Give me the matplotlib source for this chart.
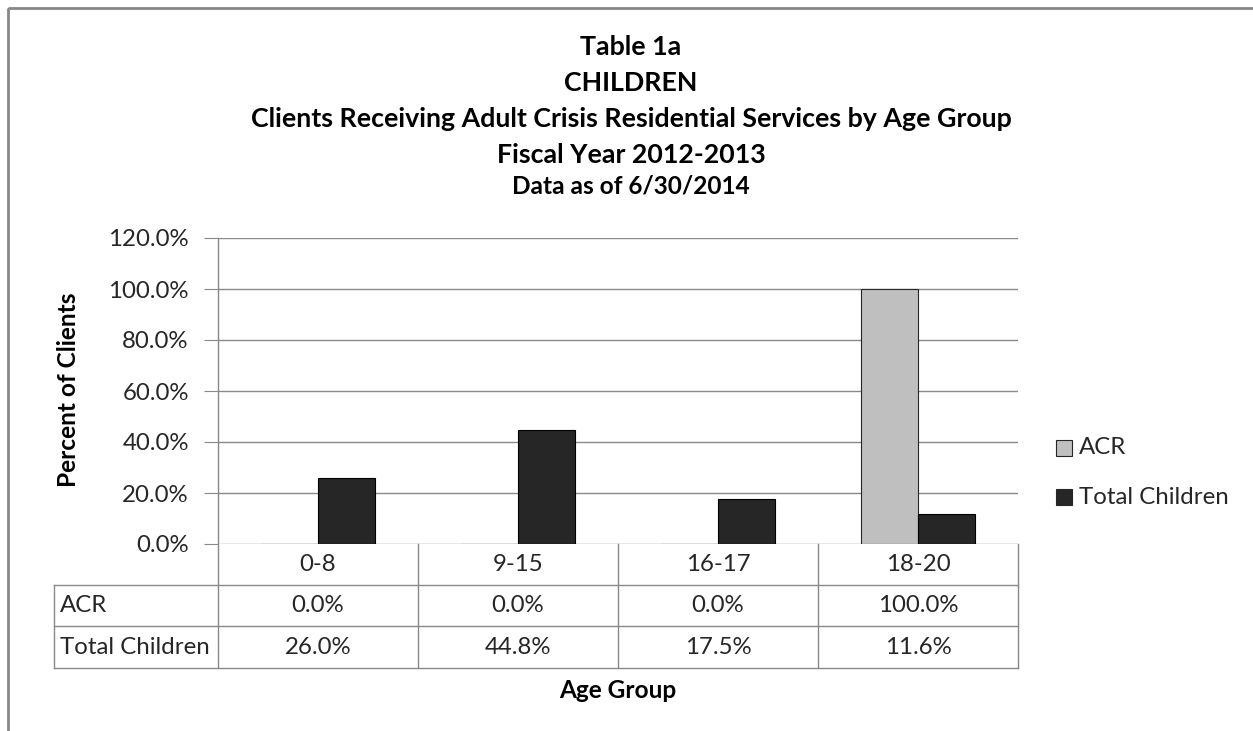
import matplotlib
matplotlib.use('Agg')
import matplotlib.pyplot as plt
from matplotlib.patches import Rectangle
import numpy as np

# Chart data
age_groups = ['0-8', '9-15', '16-17', '18-20']
series_names = ['ACR', 'Total Children']
acr_values = [0.0, 0.0, 0.0, 100.0]
total_values = [26.0, 44.8, 17.5, 11.6]
y_ticks = [0, 20, 40, 60, 80, 100, 120]
title_lines = ['Table 1a', 'CHILDREN',
               'Clients Receiving Adult Crisis Residential Services by Age Group',
               'Fiscal Year 2012-2013']
subtitle = 'Data as of 6/30/2014'
x_title = 'Age Group'
y_title = 'Percent of Clients'

plt.rcParams['font.family'] = ['Lato', 'DejaVu Sans']

W, H = 1253, 731
fig = plt.figure(figsize=(W / 100, H / 100), dpi=100, facecolor='white')
renderer = fig.canvas.get_renderer()


def fx(px):
    return px / W


def fy(py):
    return 1 - py / H


def fit_size(text, target_px, weight='normal'):
    # font size that gives the text the wanted width in pixels
    t = fig.text(0, 0, text, fontsize=10, fontweight=weight)
    w = t.get_window_extent(renderer=renderer).width
    t.remove()
    return 10 * target_px / w


grid_col = '#898989'
text_col = '#262626'

fs_title = fit_size(title_lines[2], 765, 'bold')
fs_sub = fit_size(subtitle, 238, 'bold')
fs_axis = fit_size(y_title, 195, 'bold')
fs_text = fit_size(series_names[1], 150)

# plot area in pixels
left, right, top, bottom = 218, 1018, 238, 544
ax = fig.add_axes([fx(left), fy(bottom), fx(right - left), (bottom - top) / H])

n = len(age_groups)
x = np.arange(n)
bw = 1 / 3.5
ax.bar(x - bw / 2, acr_values, bw, color='#bfbfbf', edgecolor='#262626', linewidth=0.8, zorder=3)
ax.bar(x + bw / 2, total_values, bw, color='#262626', edgecolor='#000000', linewidth=0.8, zorder=3)
ax.set_xlim(-0.5, n - 0.5)
ax.set_ylim(0, 120)
ax.set_yticks(y_ticks)
ax.set_yticklabels(['%.1f%%' % v for v in y_ticks], fontsize=fs_text, color=text_col)
ax.set_xticks([])
ax.grid(axis='y', color=grid_col, linewidth=1, zorder=0)
for s in ['top', 'right', 'bottom', 'left']:
    ax.spines[s].set_visible(False)
ax.tick_params(axis='y', length=10, color=grid_col, pad=11)

# overlay for titles, table and frame (pixel coordinates)
ov = fig.add_axes([0, 0, 1, 1], facecolor='none')
ov.set_xlim(0, W)
ov.set_ylim(H, 0)
ov.axis('off')

ov.add_patch(Rectangle((8, 8), W + 20, H + 20, fill=False, edgecolor='#878787', linewidth=2))

title_base = [55, 91, 127, 163]
for line, ty in zip(title_lines, title_base):
    ov.text(631, ty, line, ha='center', va='baseline', fontsize=fs_title,
            fontweight='bold', color='#000000')
ov.text(631, 193, subtitle, ha='center', va='baseline', fontsize=fs_sub,
        fontweight='bold', color='#000000')

ov.text(68, 390, y_title, ha='center', va='center', rotation=90, fontsize=fs_axis,
        fontweight='bold', color='#000000')

# data table under the plot
col_w = (right - left) / n
tab_left = 54
row_lines = [585, 626, 668]
ov.plot([left, left], [top, row_lines[-1]], color=grid_col, lw=1)
for i in range(1, n + 1):
    xc = left + i * col_w
    ov.plot([xc, xc], [bottom, row_lines[-1]], color=grid_col, lw=1)
for ry in row_lines:
    ov.plot([tab_left, right], [ry, ry], color=grid_col, lw=1)
ov.plot([tab_left, tab_left], [row_lines[0], row_lines[-1]], color=grid_col, lw=1)

row_mid = [(bottom + row_lines[0]) / 2, (row_lines[0] + row_lines[1]) / 2,
           (row_lines[1] + row_lines[2]) / 2]
for i, g in enumerate(age_groups):
    cx = left + (i + 0.5) * col_w
    ov.text(cx, row_mid[0], g, ha='center', va='center', fontsize=fs_text, color=text_col)
    ov.text(cx, row_mid[1], '%.1f%%' % acr_values[i], ha='center', va='center',
            fontsize=fs_text, color=text_col)
    ov.text(cx, row_mid[2], '%.1f%%' % total_values[i], ha='center', va='center',
            fontsize=fs_text, color=text_col)
ov.text(60, row_mid[1], series_names[0], ha='left', va='center', fontsize=fs_text, color=text_col)
ov.text(60, row_mid[2], series_names[1], ha='left', va='center', fontsize=fs_text, color=text_col)

ov.text(618, 691, x_title, ha='center', va='center', fontsize=fs_axis,
        fontweight='bold', color='#000000')

# legend
leg_colors = ['#bfbfbf', '#262626']
for name, c, ly in zip(series_names, leg_colors, [448, 497]):
    ov.add_patch(Rectangle((1056, ly - 8), 16, 16, facecolor=c, edgecolor='#262626', linewidth=0.8))
    ov.text(1079, ly, name, ha='left', va='center', fontsize=fs_text, color=text_col)

fig.savefig('out.png', dpi=100, facecolor='white')
